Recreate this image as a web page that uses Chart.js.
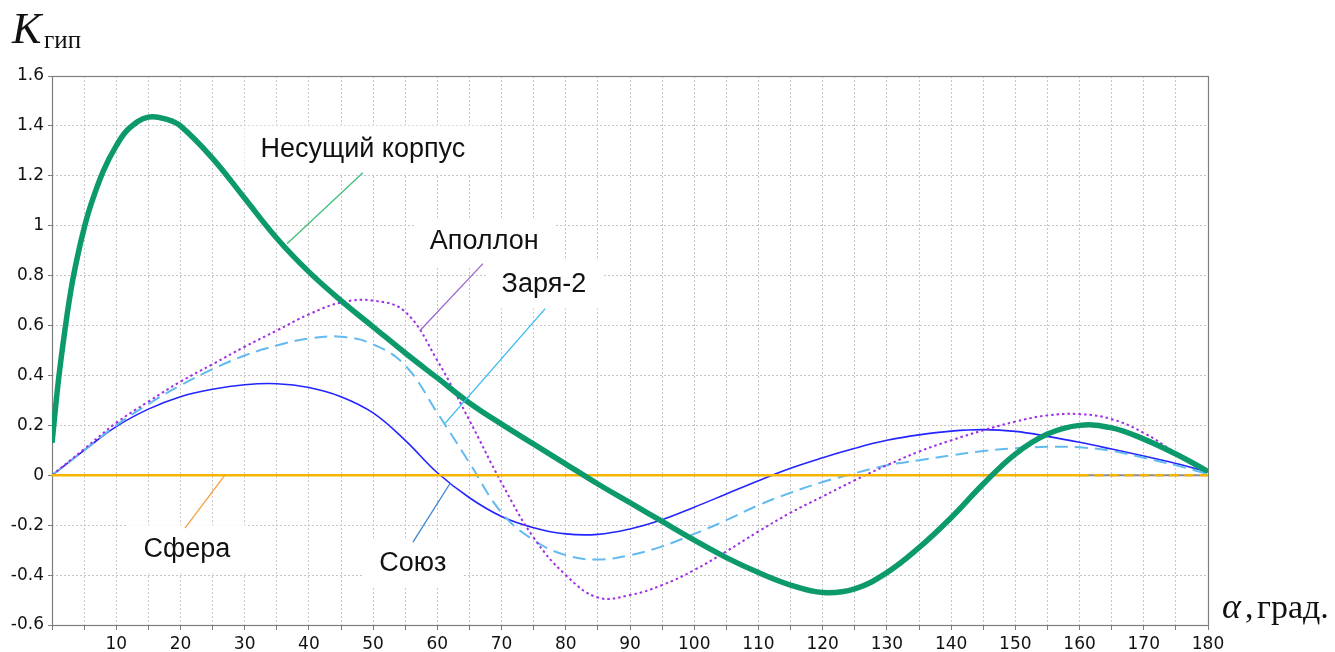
<!DOCTYPE html>
<html lang="ru">
<head>
<meta charset="utf-8">
<title>Kгип</title>
<script src="https://cdn.jsdelivr.net/npm/chart.js@4/dist/chart.umd.min.js"></script>
<style>
    html, body { margin: 0; padding: 0; background: #ffffff; }
    #wrap { position: relative; width: 1335px; height: 652px; }
</style>
</head>
<body>
<div id="wrap"><canvas id="kChart" width="1335" height="652"></canvas></div>
<script>
// Угол атаки, град. Общая сетка для большинства кривых.
var angles = [0, 5, 10, 15, 20, 25, 30, 35, 40, 45, 50, 55, 60, 65, 70, 75, 80, 85, 90,
    95, 100, 105, 110, 115, 120, 125, 130, 135, 140, 145, 150, 155, 160, 165, 170, 175, 180];

// У несущего корпуса резкий подъём в начале, поэтому точки там чаще.
var bodyAngles = [0, 1, 2, 3, 4, 5, 6, 8, 10, 12, 15, 18, 20, 25, 30, 35, 40, 45, 50, 55, 60,
    65, 70, 75, 80, 85, 90, 95, 100, 105, 110, 115, 120, 125, 130, 135, 140, 145, 150, 155,
    160, 165, 170, 175, 180];
var bodyValues = [0.13, 0.38, 0.58, 0.75, 0.88, 0.99, 1.08, 1.22, 1.32, 1.39, 1.435, 1.425,
    1.40, 1.27, 1.11, 0.95, 0.815, 0.70, 0.595, 0.49, 0.39, 0.29, 0.205, 0.125, 0.045, -0.035,
    -0.11, -0.185, -0.26, -0.33, -0.39, -0.44, -0.47, -0.455, -0.39, -0.29, -0.17, -0.035,
    0.085, 0.165, 0.20, 0.19, 0.145, 0.085, 0.015];

var apolloValues = [0, 0.105, 0.21, 0.295, 0.375, 0.445, 0.515, 0.58, 0.645, 0.692, 0.70,
    0.655, 0.46, 0.22, -0.03, -0.25, -0.40, -0.49, -0.48, -0.44, -0.38, -0.305, -0.225,
    -0.15, -0.085, -0.02, 0.04, 0.095, 0.14, 0.18, 0.215, 0.24, 0.245, 0.225, 0.17, 0.09, 0.015];

var zaryaValues = [0, 0.10, 0.20, 0.285, 0.36, 0.425, 0.48, 0.52, 0.548, 0.555, 0.525, 0.44,
    0.25, 0.05, -0.15, -0.26, -0.32, -0.338, -0.32, -0.285, -0.235, -0.18, -0.12, -0.07,
    -0.027, 0.008, 0.04, 0.06, 0.08, 0.097, 0.108, 0.114, 0.112, 0.098, 0.07, 0.04, 0.005];

var soyuzValues = [0, 0.10, 0.195, 0.265, 0.315, 0.345, 0.363, 0.367, 0.352, 0.315, 0.25,
    0.14, 0.01, -0.09, -0.165, -0.21, -0.235, -0.237, -0.215, -0.178, -0.128, -0.075, -0.022,
    0.028, 0.07, 0.108, 0.14, 0.162, 0.177, 0.183, 0.176, 0.156, 0.132, 0.105, 0.077, 0.047, 0.014];

var sphereValues = [0, 0, 0, 0, 0, 0, 0, 0, 0, 0, 0, 0, 0, 0, 0, 0, 0, 0, 0,
    0, 0, 0, 0, 0, 0, 0, 0, 0, 0, 0, 0, 0, 0, 0, 0, 0, 0];

// Серый отрезок нулевой линии справа, под пунктиром сферы.
var zeroRefAngles = [160, 180];
var zeroRefValues = [0, 0];

// Подписи кривых: центр текста и выноска (в единицах осей).
var notes = [
    { text: "Несущий корпус", at: [48.4, 1.305], from: [48.4, 1.212], to: [36.6, 0.928], color: "#3dbf7a" },
    { text: "Аполлон", at: [67.3, 0.935], from: [67.1, 0.848], to: [57.3, 0.58], color: "#9a66cc" },
    { text: "Заря-2", at: [76.6, 0.765], from: [76.8, 0.668], to: [61.2, 0.208], color: "#33bbee" },
    { text: "Союз", at: [56.2, -0.352], from: [56.2, -0.268], to: [62.0, -0.032], color: "#3a85d0" },
    { text: "Сфера", at: [21.0, -0.296], from: [20.7, -0.212], to: [26.9, 0.0], color: "#f5a040" }
];

var noteFont = '27px "Liberation Sans", Arial, sans-serif';

document.addEventListener("DOMContentLoaded", function () {
    setupChart();
});

function toPoints(xs, ys) {
    var points = [];
    for (var i = 0; i < xs.length; i++) {
        points.push({ x: xs[i], y: ys[i] });
    }
    return points;
}

function createLine(label, xs, ys, color, width, dash) {
    return {
        label: label,
        data: toPoints(xs, ys),
        borderColor: color,
        backgroundColor: color,
        borderWidth: width,
        borderDash: dash || [],
        pointRadius: 0,
        fill: false,
        tension: 0.4
    };
}

// Белые подложки под подписями закрывают сетку, как в оригинале.
var notesPlugin = {
    id: "notes",
    beforeDatasetsDraw: function (chart) {
        var ctx = chart.ctx;
        var xs = chart.scales.x;
        var ys = chart.scales.y;
        var area = chart.chartArea;

        ctx.save();
        ctx.font = noteFont;
        ctx.fillStyle = "#ffffff";
        for (var i = 0; i < notes.length; i++) {
            var w = ctx.measureText(notes[i].text).width + 32;
            var cx = xs.getPixelForValue(notes[i].at[0]);
            var cy = ys.getPixelForValue(notes[i].at[1]);
            ctx.fillRect(cx - w / 2, cy - 24, w, 48);
        }

        // Рамка области графика
        ctx.strokeStyle = "#7f7f7f";
        ctx.lineWidth = 1.2;
        ctx.strokeRect(area.left + 0.5, area.top + 0.5, area.right - area.left, area.bottom - area.top);
        ctx.restore();
    },
    afterDatasetsDraw: function (chart) {
        var ctx = chart.ctx;
        var xs = chart.scales.x;
        var ys = chart.scales.y;

        ctx.save();
        for (var i = 0; i < notes.length; i++) {
            var n = notes[i];
            ctx.strokeStyle = n.color;
            ctx.lineWidth = 1.3;
            ctx.beginPath();
            ctx.moveTo(xs.getPixelForValue(n.from[0]), ys.getPixelForValue(n.from[1]));
            ctx.lineTo(xs.getPixelForValue(n.to[0]), ys.getPixelForValue(n.to[1]));
            ctx.stroke();

            ctx.font = noteFont;
            ctx.fillStyle = "#111111";
            ctx.textAlign = "center";
            ctx.textBaseline = "middle";
            ctx.fillText(n.text, xs.getPixelForValue(n.at[0]), ys.getPixelForValue(n.at[1]));
        }
        ctx.restore();
    },
    afterDraw: function (chart) {
        var ctx = chart.ctx;
        ctx.save();
        ctx.fillStyle = "#111111";
        ctx.textBaseline = "alphabetic";
        ctx.textAlign = "left";

        // Подпись оси Y: K с нижним индексом «гип»
        ctx.font = 'italic 44px "Liberation Serif", "Times New Roman", serif';
        ctx.fillText("K", 12, 43);
        ctx.font = '25px "Liberation Serif", "Times New Roman", serif';
        ctx.fillText("гип", 44, 48);

        // Подпись оси X
        ctx.font = 'italic 36px "Liberation Serif", "Times New Roman", serif';
        ctx.fillText("α", 1222, 618);
        ctx.font = '34px "Liberation Serif", "Times New Roman", serif';
        ctx.fillText(",", 1245, 618);
        ctx.fillText("град.", 1257, 618);
        ctx.restore();
    }
};

function setupChart() {
    var canvas = document.getElementById("kChart");
    if (canvas == null || typeof Chart === "undefined") {
        return;
    }

    var sphere = createLine("Сфера", angles, sphereValues, "#f7b500", 2.5);
    sphere.segment = {
        borderDash: function (ctx) {
            return ctx.p0.parsed.x >= 160 ? [9, 6] : undefined;
        }
    };
    var zeroRef = createLine("", zeroRefAngles, zeroRefValues, "#8c8c8c", 2);

    new Chart(canvas, {
        type: "line",
        data: {
            datasets: [
                createLine("Несущий корпус", bodyAngles, bodyValues, "#0c9a6c", 5.5),
                sphere,
                zeroRef,
                createLine("Аполлон", angles, apolloValues, "#a02ee6", 2, [2.5, 3]),
                createLine("Заря-2", angles, zaryaValues, "#62baf0", 2, [13, 7]),
                createLine("Союз", angles, soyuzValues, "#2424ff", 1.6)
            ]
        },
        options: {
            responsive: false,
            animation: false,
            layout: {
                padding: { left: 0, top: 76, right: 127, bottom: 0 }
            },
            plugins: {
                legend: { display: false },
                tooltip: { enabled: false }
            },
            scales: {
                x: {
                    type: "linear",
                    min: 0,
                    max: 180,
                    afterFit: function (scale) { scale.height = 27; },
                    grid: {
                        color: "#c6c6c6",
                        lineWidth: 1,
                        tickLength: 5,
                        tickColor: "#7f7f7f",
                        tickBorderDash: []
                    },
                    border: { display: false, dash: [2, 2] },
                    ticks: {
                        stepSize: 5,
                        autoSkip: false,
                        maxRotation: 0,
                        padding: 4,
                        color: "#111111",
                        font: { family: '"DejaVu Sans", Verdana, sans-serif', size: 17 },
                        callback: function (value) {
                            return (value % 10 === 0 && value !== 0) ? String(value) : "";
                        }
                    }
                },
                y: {
                    min: -0.6,
                    max: 1.6,
                    afterFit: function (scale) { scale.width = 52; },
                    grid: {
                        color: "#c6c6c6",
                        lineWidth: 1,
                        tickLength: 4,
                        tickColor: "#7f7f7f",
                        tickBorderDash: []
                    },
                    border: { display: false, dash: [2, 2] },
                    ticks: {
                        stepSize: 0.2,
                        padding: 4,
                        color: "#111111",
                        font: { family: '"DejaVu Sans", Verdana, sans-serif', size: 17 },
                        callback: function (value) {
                            return String(Math.round(value * 10) / 10);
                        }
                    }
                }
            }
        },
        plugins: [notesPlugin]
    });
}
</script>
</body>
</html>
